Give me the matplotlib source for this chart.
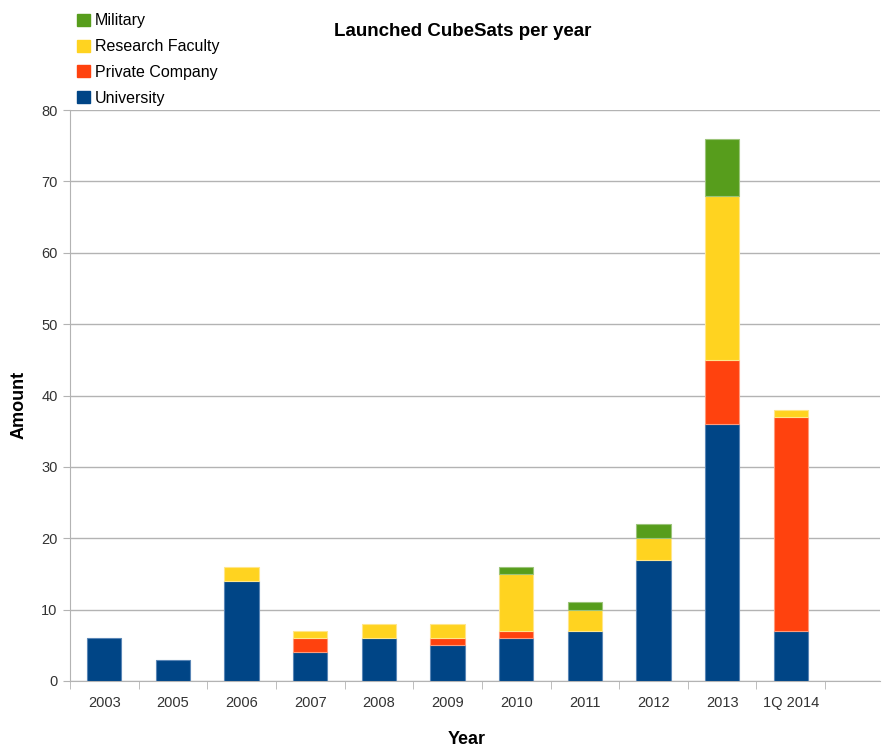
import matplotlib
matplotlib.use("Agg")
import matplotlib.pyplot as plt
import numpy as np
from matplotlib.patches import Patch

plt.rcParams['font.family'] = ['Liberation Sans', 'DejaVu Sans']

years = ['2003', '2005', '2006', '2007', '2008', '2009', '2010', '2011', '2012', '2013', '1Q 2014']
university = [6, 3, 14, 4, 6, 5, 6, 7, 17, 36, 7]
private = [0, 0, 0, 2, 0, 1, 1, 0, 0, 9, 30]
research = [0, 0, 2, 1, 2, 2, 8, 3, 3, 23, 1]
military = [0, 0, 0, 0, 0, 0, 1, 1, 2, 8, 0]

series = [('University', university, '#004586', '#5a86b6'),
          ('Private Company', private, '#ff420e', '#ff9a7a'),
          ('Research Faculty', research, '#ffd320', '#ffe68a'),
          ('Military', military, '#579d1c', '#9cc47a')]

fig = plt.figure(figsize=(8.82, 7.49), dpi=100)
ax = fig.add_axes([70/882, 1-681/749, 810/882, 571/749])

x = np.arange(len(years))
bottom = np.zeros(len(years))
for name, vals, col, edge in series:
    vals = np.array(vals, dtype=float)
    nz = vals > 0  # skip empty segments so no stray outlines appear
    ax.bar(x[nz], vals[nz], width=0.5, bottom=bottom[nz], color=col, edgecolor=edge,
           linewidth=0.8, zorder=3)
    bottom += vals

ax.set_xlim(-0.5, 11.3)
ax.set_ylim(0, 80)
ax.set_yticks(range(0, 81, 10))
ax.set_xticks(x)
ax.set_xticklabels(years)
ax.set_xticks(np.arange(-0.5, 11, 1), minor=True)
ax.tick_params(axis='x', which='major', length=0, pad=11, labelsize=10.5, labelcolor='#333333')
ax.tick_params(axis='x', which='minor', length=6, color='#b3b3b3')
ax.tick_params(axis='y', length=5, color='#b3b3b3', labelsize=10.5, labelcolor='#333333', pad=4)
ax.yaxis.grid(True, color='#b3b3b3', linewidth=1, zorder=0)
for s in ['top', 'right']:
    ax.spines[s].set_visible(False)
for s in ['left', 'bottom']:
    ax.spines[s].set_color('#b3b3b3')

fig.text(467/882, 1-740/749, 'Year', fontsize=13, fontweight='bold', ha='center', va='center')
fig.text(19/882, 1-405/749, 'Amount', fontsize=13, fontweight='bold', ha='center', va='center',
         rotation=90)
fig.text(463/882, 1-31/749, 'Launched CubeSats per year', fontsize=13.5, fontweight='bold',
         ha='center', va='center')

handles = [Patch(facecolor=col, edgecolor=col, label=name) for name, _, col, _ in series[::-1]]
fig.legend(handles=handles, loc='upper left', bbox_to_anchor=(77/882, 1-13.5/749),
           frameon=False, fontsize=11.5, handlelength=0.8, handleheight=0.8,
           handletextpad=0.3, labelspacing=0.67, borderaxespad=0, borderpad=0)

fig.savefig('out.png', dpi=100)
